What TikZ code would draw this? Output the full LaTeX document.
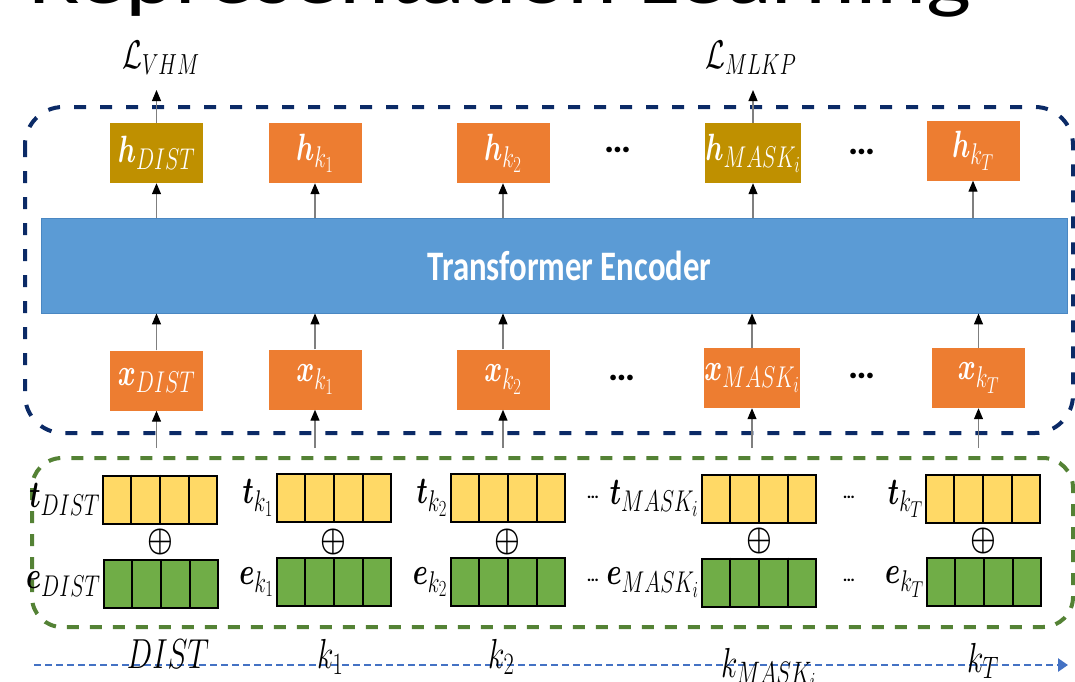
\RequirePackage{fix-cm}
\documentclass[tikz,border=0pt]{standalone}
\usepackage{fontspec}
\usepackage{bm}
\usetikzlibrary{arrows.meta,calc}
\newfontfamily\carl{Carlito}
\DeclareMathSizes{38}{38}{30}{23}
\DeclareMathSizes{42}{42}{31}{23}
\DeclareMathSizes{40}{40}{29}{21}
\definecolor{orng}{HTML}{ED7D31}
\definecolor{gold}{HTML}{BF9000}
\definecolor{teblue}{HTML}{5B9BD5}
\definecolor{teedge}{HTML}{4A87C2}
\definecolor{yel}{HTML}{FFD966}
\definecolor{grn}{HTML}{70AD47}
\definecolor{dkgreen}{HTML}{548235}
\definecolor{navy}{HTML}{0B2A66}
\definecolor{arrblue}{HTML}{4472C4}
\definecolor{lngray}{HTML}{7F7F7F}
\newcommand{\sq}[1]{\scalebox{0.72}[1]{#1}}
\newcommand{\bl}[1]{\sq{\fontsize{38}{40}\selectfont$#1$}}
\newcommand{\kl}[1]{\sq{\fontsize{42}{44}\selectfont$#1$}}
\newcommand{\op}{\scalebox{0.85}[1]{\fontsize{34}{34}\selectfont$\bm{\oplus}$}}
\begin{document}
\begin{tikzpicture}[x=1pt,y=-1pt,
  obox/.style={fill=orng, minimum width=93pt, minimum height=60pt, inner sep=0pt, text=white},
  gbox/.style={obox, fill=gold},
  te/.style={fill=teblue, draw=teedge, line width=0.8pt, minimum width=1026pt, minimum height=95pt, inner sep=0pt, text=white, font=\carl\bfseries\fontsize{42}{42}\selectfont},
  arr/.style={draw=lngray, line width=1.2pt, -{Triangle[length=11pt,width=9pt,color=black]}},
  navydash/.style={draw=navy, line width=4pt, dash pattern=on 12pt off 14pt, rounded corners=38pt},
  greendash/.style={draw=dkgreen, line width=4pt, dash pattern=on 12pt off 11pt, rounded corners=30pt},
  bluearr/.style={draw=arrblue, line width=2.5pt, dash pattern=on 7pt off 4pt, -{Triangle[length=10pt,width=13pt]}},
  tbar/.style={fill=yel, draw=black, line width=2pt, minimum width=114pt, minimum height=48pt, inner sep=0pt},
  ebar/.style={tbar, fill=grn},
  elab/.style={anchor=east, inner sep=0pt, xshift=-2pt},
  plus/.style={inner sep=0pt},
  bigdots/.style={inner sep=0pt, font=\carl\bfseries\fontsize{38}{38}\selectfont},
  smalldots/.style={inner sep=0pt, font=\carl\bfseries\fontsize{17}{17}\selectfont},
  klab/.style={anchor=base west, inner sep=0pt},
  llab/.style={anchor=base west, inner sep=0pt}
]
\useasboundingbox (0,0) rectangle (1075,681);
\clip (0,0) rectangle (1075,681);

% partially visible title
\node[anchor=base west, inner sep=0pt] (title) at (28,3) {\scalebox{1.19}[1]{\carl\fontsize{80}{80}\selectfont Representation Learning}};

% dashed frames
\draw[navydash] (25,107) rectangle (1073,433);
\draw[greendash] (32,458) rectangle (1073,627);

% bottom sequence arrow
\coordinate (bs) at (34,665);
\coordinate (be) at (1068,665);
\draw[bluearr] (bs) -- (be);

% transformer encoder
\node[te] (TE) at (554,265.5) {\hspace*{31pt}\scalebox{0.78}[1]{Transformer Encoder}};

% output row
\node[gbox] (hD) at (156.5,153) {\bl{\bm{h}_{DIST}}};
\node[obox] (h1) at (315,153) {\bl{\bm{h}_{k_1}}};
\node[obox] (h2) at (503,153) {\bl{\bm{h}_{k_2}}};
\node[gbox] (hM) at (753,153) {\bl{\bm{h}_{MASK_i}}};
\node[obox] (hT) at (973,150.5) {\bl{\bm{h}_{k_T}}};
\node[bigdots] (dh1) at (618,150) {…};
\node[bigdots] (dh2) at (862,152) {…};

% input row
\node[obox] (xD) at (156.5,380.5) {\bl{\bm{x}_{DIST}}};
\node[obox] (x1) at (315,379.5) {\bl{\bm{x}_{k_1}}};
\node[obox] (x2) at (503,379.5) {\bl{\bm{x}_{k_2}}};
\node[obox] (xM) at (752,378) {\bl{\bm{x}_{MASK_i}}};
\node[obox] (xT) at (978.5,378) {\bl{\bm{x}_{k_T}}};
\node[bigdots] (dx1) at (622,378) {…};
\node[bigdots] (dx2) at (862,376) {…};

% loss labels
\node[llab] (LV) at (122,68) {\sq{\fontsize{40}{42}\selectfont$\mathcal{L}_{VHM}$}};
\node[llab] (LM) at (705,68) {\sq{\fontsize{40}{42}\selectfont$\mathcal{L}_{MLKP}$}};
\coordinate (LVa) at (156.5,90);
\coordinate (LMa) at (753,90);
\draw[arr] (hD.north) -- (LVa);
\draw[arr] (hM.north) -- (LMa);

% encoder to outputs
\foreach \n in {hD,h1,h2,hM,hT}{
  \draw[arr] (\n.south |- TE.north) -- (\n.south);
}
% inputs to encoder
\foreach \n in {xD,x1,x2,xM,xT}{
  \draw[arr] (\n.north) -- (\n.north |- TE.south);
}
% embeddings to inputs
\coordinate (iD) at (156.5,448);
\coordinate (i1) at (315,448);
\coordinate (i2) at (503,448);
\coordinate (iM) at (752,448);
\coordinate (iT) at (978.5,448);
\draw[arr] (iD) -- (xD.south);
\draw[arr] (i1) -- (x1.south);
\draw[arr] (i2) -- (x2.south);
\draw[arr] (iM) -- (xM.south);
\draw[arr] (iT) -- (xT.south);

% embedding bars
\node[tbar] (tD) at (160,499.5) {};
\node[ebar] (eD) at (160.5,584) {};
\node[tbar] (t1) at (333.5,498) {};
\node[ebar] (e1) at (334,582) {};
\node[tbar] (t2) at (507.5,498) {};
\node[ebar] (e2) at (507.5,582) {};
\node[tbar] (tM) at (758.5,498.5) {};
\node[ebar] (eM) at (759,582.5) {};
\node[tbar] (tT) at (983,498.5) {};
\node[ebar] (eT) at (984,582) {};
\foreach \n in {tD,eD,t1,e1,t2,e2,tM,eM,tT,eT}{
  \foreach \i in {1,2,3}{
    \draw[line width=2pt] ($(\n.north west)!\i/4!(\n.north east)$) -- ($(\n.south west)!\i/4!(\n.south east)$);
  }
}

% plus signs
\node[plus] (pD) at (160,542) {\op};
\node[plus] (p1) at (333,542) {\op};
\node[plus] (p2) at (507,542) {\op};
\node[plus] (pM) at (759,541) {\op};
\node[plus] (pT) at (983,541) {\op};

% embedding labels
\node[elab] (ltD) at (tD.west) {\bl{\bm{t}_{DIST}}};
\node[elab] (leD) at (eD.west) {\bl{\bm{e}_{DIST}}};
\node[elab] (lt1) at (t1.west) {\bl{\bm{t}_{k_1}}};
\node[elab] (le1) at (e1.west) {\bl{\bm{e}_{k_1}}};
\node[elab] (lt2) at (t2.west) {\bl{\bm{t}_{k_2}}};
\node[elab] (le2) at (e2.west) {\bl{\bm{e}_{k_2}}};
\node[elab] (ltM) at (tM.west) {\bl{\bm{t}_{MASK_i}}};
\node[elab] (leM) at (eM.west) {\bl{\bm{e}_{MASK_i}}};
\node[elab] (ltT) at (tT.west) {\bl{\bm{t}_{k_T}}};
\node[elab] (leT) at (eT.west) {\bl{\bm{e}_{k_T}}};
\node[smalldots] (dt1) at (593,497) {…};
\node[smalldots] (de1) at (593,580) {…};
\node[smalldots] (dt2) at (849,497) {…};
\node[smalldots] (de2) at (849,580) {…};

% sequence labels
\node[anchor=base, inner sep=0pt] (kD) at (168,668) {\kl{DIST}};
\node[klab] (k1) at (317,668) {\kl{k_1}};
\node[klab] (k2) at (488,668) {\kl{k_2}};
\node[klab] (kM) at (721,677) {\kl{k_{MASK_i}}};
\node[klab] (kT) at (967,672) {\kl{k_T}};
\end{tikzpicture}
\end{document}
